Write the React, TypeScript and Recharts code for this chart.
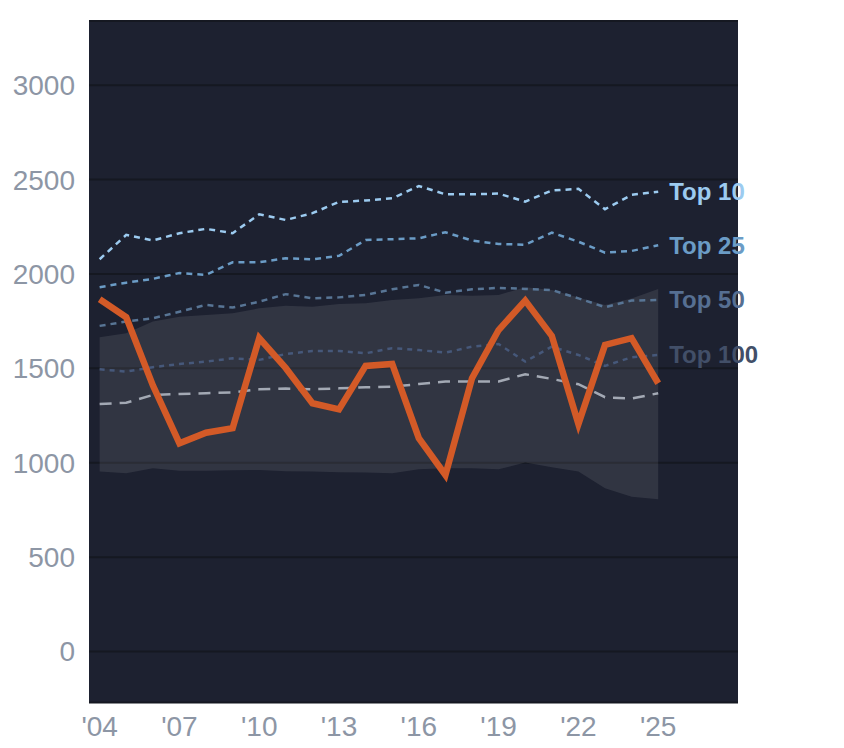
import React from "react";
import { ComposedChart, Line, Area, XAxis, YAxis, CartesianGrid } from "recharts";

const years = [2004, 2005, 2006, 2007, 2008, 2009, 2010, 2011, 2012, 2013, 2014, 2015, 2016, 2017, 2018, 2019, 2020, 2021, 2022, 2023, 2024, 2025];
const top10 = [2078, 2207, 2177, 2216, 2239, 2216, 2316, 2286, 2322, 2382, 2389, 2401, 2466, 2422, 2422, 2426, 2383, 2442, 2451, 2343, 2419, 2436];
const top25 = [1930, 1954, 1974, 2005, 1995, 2062, 2062, 2083, 2078, 2096, 2180, 2184, 2189, 2221, 2177, 2159, 2155, 2219, 2171, 2113, 2122, 2152];
const top50 = [1725, 1748, 1765, 1800, 1836, 1822, 1853, 1893, 1871, 1876, 1889, 1919, 1942, 1901, 1919, 1926, 1921, 1915, 1871, 1824, 1859, 1862];
const top100 = [1495, 1483, 1506, 1523, 1536, 1553, 1545, 1576, 1592, 1592, 1580, 1607, 1597, 1583, 1615, 1629, 1536, 1615, 1571, 1513, 1559, 1571];
const median = [1311, 1318, 1359, 1364, 1368, 1373, 1389, 1393, 1389, 1394, 1400, 1403, 1417, 1430, 1430, 1430, 1469, 1444, 1416, 1347, 1340, 1368];
const bandLow = [953, 944, 971, 958, 958, 960, 962, 955, 953, 950, 948, 945, 965, 971, 971, 965, 1001, 976, 953, 865, 820, 806];
const bandHigh = [1665, 1686, 1748, 1774, 1783, 1792, 1818, 1831, 1826, 1841, 1845, 1862, 1871, 1889, 1884, 1889, 1930, 1915, 1875, 1836, 1870, 1920];
const player = [1866, 1771, 1410, 1103, 1159, 1183, 1660, 1501, 1315, 1283, 1513, 1523, 1130, 935, 1448, 1703, 1859, 1672, 1205, 1624, 1660, 1421];

const xTicks = [2004, 2007, 2010, 2013, 2016, 2019, 2022, 2025];
const yTicks = [0, 500, 1000, 1500, 2000, 2500, 3000];

const data = years.map((year, i) => ({
  year,
  top10: top10[i],
  top25: top25[i],
  top50: top50[i],
  top100: top100[i],
  median: median[i],
  band: [bandLow[i], bandHigh[i]],
  player: player[i],
}));

const FONT = "'Liberation Sans', Arial, sans-serif";

const endLabel = (color: string, text: string) => (props: any) => {
  if (props.index !== years.length - 1) return null;
  return (
    <text
      x={props.x + 11}
      y={props.y}
      dy="0.35em"
      fill={color}
      fontSize={24}
      fontWeight="bold"
      fontFamily={FONT}
    >
      {text}
    </text>
  );
};

export default function App() {
  return (
    <div style={{ width: 828, height: 740 }}>
      <ComposedChart
        width={828}
        height={740}
        data={data}
        margin={{ top: 13, right: 98, bottom: 8, left: 0 }}
        style={{ fontFamily: FONT }}
      >
        <CartesianGrid vertical={false} fill="#1d2130" stroke="#151821" strokeWidth={2} />
        <XAxis
          dataKey="year"
          type="number"
          domain={[2003.6, 2028]}
          ticks={xTicks}
          allowDataOverflow
          tickFormatter={(v: number) => "'" + String(v).slice(2)}
          axisLine={false}
          tickLine={false}
          tickMargin={8}
          height={37.5}
          tick={{ fill: "#8d96a5", fontSize: 28, fontFamily: FONT }}
        />
        <YAxis
          type="number"
          domain={[-270, 3340]}
          ticks={yTicks}
          allowDataOverflow
          axisLine={false}
          tickLine={false}
          tickMargin={8}
          width={81}
          tick={{ fill: "#8d96a5", fontSize: 28, fontFamily: FONT }}
        />
        <Line type="linear" dataKey="top10" stroke="#9ccbf0" strokeWidth={2.5} strokeDasharray="6 5" dot={false} isAnimationActive={false} label={endLabel("#9ccbf0", "Top 10")} />
        <Line type="linear" dataKey="top25" stroke="#6b9cc6" strokeWidth={2.5} strokeDasharray="6 5" dot={false} isAnimationActive={false} label={endLabel("#6b9cc6", "Top 25")} />
        <Line type="linear" dataKey="top50" stroke="#587595" strokeWidth={2.5} strokeDasharray="6 5" dot={false} isAnimationActive={false} label={endLabel("#566f92", "Top 50")} />
        <Line type="linear" dataKey="top100" stroke="#46587a" strokeWidth={2.5} strokeDasharray="5 5" dot={false} isAnimationActive={false} label={endLabel("#424f68", "Top 100")} />
        <Area type="linear" dataKey="band" fill="#ffffff" fillOpacity={0.09} stroke="none" isAnimationActive={false} />
        <Line type="linear" dataKey="median" stroke="#a3a9b4" strokeWidth={2.5} strokeDasharray="12 8" dot={false} isAnimationActive={false} />
        <Line type="linear" dataKey="player" stroke="#d35a27" strokeWidth={6.5} dot={false} isAnimationActive={false} />
      </ComposedChart>
    </div>
  );
}
